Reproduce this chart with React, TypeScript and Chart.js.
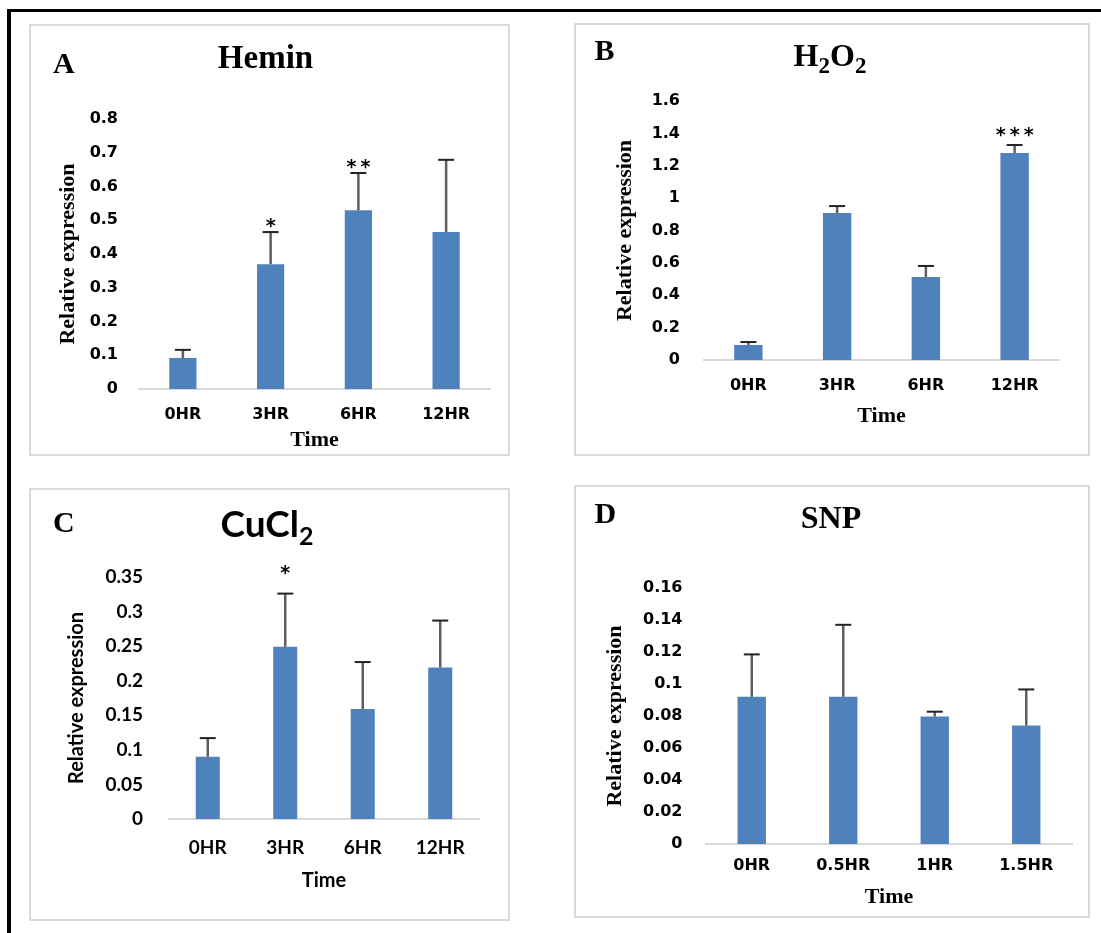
import React, { useEffect, useRef } from 'react';
import { Chart, registerables } from 'chart.js';

Chart.register(...registerables);

// ---------------- DATA ----------------
const hourCategories = ['0HR', '3HR', '6HR', '12HR'];
const snpCategories = ['0HR', '0.5HR', '1HR', '1.5HR'];

const heminValues = [0.092, 0.37, 0.53, 0.465];
const heminErrors = [0.024, 0.095, 0.11, 0.214];
const heminStars = ['', '*', '**', ''];
const heminTicks = ['0', '0.1', '0.2', '0.3', '0.4', '0.5', '0.6', '0.7', '0.8'];

const h2o2Values = [0.093, 0.908, 0.513, 1.279];
const h2o2Errors = [0.018, 0.043, 0.068, 0.049];
const h2o2Stars = ['', '', '', '***'];
const h2o2Ticks = ['0', '0.2', '0.4', '0.6', '0.8', '1', '1.2', '1.4', '1.6'];

const cuclValues = [0.09, 0.249, 0.159, 0.219];
const cuclErrors = [0.027, 0.077, 0.068, 0.068];
const cuclStars = ['', '*', '', ''];
const cuclTicks = ['0', '0.05', '0.1', '0.15', '0.2', '0.25', '0.3', '0.35'];

const snpValues = [0.092, 0.092, 0.0797, 0.074];
const snpErrors = [0.0265, 0.045, 0.003, 0.0226];
const snpStars = ['', '', '', ''];
const snpTicks = ['0', '0.02', '0.04', '0.06', '0.08', '0.1', '0.12', '0.14', '0.16'];

// ---------------- STYLE / LAYOUT ----------------
const SERIF = '"Liberation Serif", "Times New Roman", serif';
const VERD = '"DejaVu Sans", Verdana, sans-serif';
const CALI = 'Lato, Carlito, Calibri, sans-serif';
const BAR_COLOR = '#4f81bd';

type TitlePart = { text: string; sub?: boolean };

type PanelCfg = {
  rect: [number, number, number, number];
  area: [number, number, number, number];
  letter: string;
  letterPos: [number, number];
  title: TitlePart[];
  titleCenter: [number, number];
  titleFont: string;
  titleSize: number;
  subSize: number;
  subDrop: number;
  categories: string[];
  values: number[];
  errors: number[];
  stars: string[];
  starAbove: number;
  tickLabels: string[];
  max: number;
  step: number;
  tickFont: string;
  tickSize: number;
  tickRight: number;
  xLabelCenter: number;
  axisFont: string;
  xTitleSize: number;
  xTitleCenter: number;
  yTitleSize: number;
  yTitleCenter: number;
  barPct: number;
};

const panels: PanelCfg[] = [
  {
    rect: [29, 24, 481, 432],
    area: [110, 95, 461, 365],
    letter: 'A',
    letterPos: [24, 49],
    title: [{ text: 'Hemin' }],
    titleCenter: [236.5, 44],
    titleFont: SERIF,
    titleSize: 33,
    subSize: 22,
    subDrop: 7,
    categories: hourCategories,
    values: heminValues,
    errors: heminErrors,
    stars: heminStars,
    starAbove: 11,
    tickLabels: heminTicks,
    max: 0.8,
    step: 0.1,
    tickFont: VERD,
    tickSize: 16,
    tickRight: 89,
    xLabelCenter: 391,
    axisFont: SERIF,
    xTitleSize: 22,
    xTitleCenter: 416,
    yTitleSize: 22,
    yTitleCenter: 39,
    barPct: 0.31,
  },
  {
    rect: [574, 23, 516, 433],
    area: [130, 78, 485, 337],
    letter: 'B',
    letterPos: [20.5, 37],
    title: [{ text: 'H' }, { text: '2', sub: true }, { text: 'O' }, { text: '2', sub: true }],
    titleCenter: [256, 43],
    titleFont: SERIF,
    titleSize: 32,
    subSize: 23,
    subDrop: 7,
    categories: hourCategories,
    values: h2o2Values,
    errors: h2o2Errors,
    stars: h2o2Stars,
    starAbove: 15,
    tickLabels: h2o2Ticks,
    max: 1.6,
    step: 0.2,
    tickFont: VERD,
    tickSize: 16,
    tickRight: 106,
    xLabelCenter: 363,
    axisFont: SERIF,
    xTitleSize: 22,
    xTitleCenter: 393,
    yTitleSize: 22,
    yTitleCenter: 51.6,
    barPct: 0.32,
  },
  {
    rect: [29, 488, 481, 433],
    area: [140, 89, 450, 331],
    letter: 'C',
    letterPos: [24, 44],
    title: [{ text: 'CuCl' }, { text: '2', sub: true }],
    titleCenter: [238, 49],
    titleFont: CALI,
    titleSize: 37,
    subSize: 25,
    subDrop: 8,
    categories: hourCategories,
    values: cuclValues,
    errors: cuclErrors,
    stars: cuclStars,
    starAbove: 26,
    tickLabels: cuclTicks,
    max: 0.35,
    step: 0.05,
    tickFont: CALI,
    tickSize: 19,
    tickRight: 114,
    xLabelCenter: 360,
    axisFont: CALI,
    xTitleSize: 20,
    xTitleCenter: 393,
    yTitleSize: 20,
    yTitleCenter: 48,
    barPct: 0.31,
  },
  {
    rect: [574, 485, 516, 433],
    area: [132, 103, 498, 359],
    letter: 'D',
    letterPos: [20.5, 38],
    title: [{ text: 'SNP' }],
    titleCenter: [257, 43],
    titleFont: SERIF,
    titleSize: 32,
    subSize: 22,
    subDrop: 7,
    categories: snpCategories,
    values: snpValues,
    errors: snpErrors,
    stars: snpStars,
    starAbove: 12,
    tickLabels: snpTicks,
    max: 0.16,
    step: 0.02,
    tickFont: VERD,
    tickSize: 16,
    tickRight: 108.5,
    xLabelCenter: 381,
    axisFont: SERIF,
    xTitleSize: 22,
    xTitleCenter: 412,
    yTitleSize: 22,
    yTitleCenter: 41,
    barPct: 0.31,
  },
];

function Panel({ cfg }: { cfg: PanelCfg }) {
  const ref = useRef<HTMLCanvasElement | null>(null);

  useEffect(() => {
    const canvas = ref.current;
    if (!canvas) return;
    const [, , w, h] = cfg.rect;
    const [aL, aT, aR, aB] = cfg.area;

    const overlay = {
      id: 'overlay' + cfg.letter,
      afterDatasetsDraw(chart: any) {
        const ctx = chart.ctx as CanvasRenderingContext2D;
        const meta = chart.getDatasetMeta(0);
        const ys = chart.scales.y;
        meta.data.forEach((bar: any, i: number) => {
          const x = bar.x;
          const yTop = ys.getPixelForValue(cfg.values[i]);
          const yErr = ys.getPixelForValue(cfg.values[i] + cfg.errors[i]);
          ctx.save();
          ctx.strokeStyle = '#5e5e5e';
          ctx.lineWidth = 2.5;
          ctx.beginPath();
          ctx.moveTo(x, yTop);
          ctx.lineTo(x, yErr);
          ctx.stroke();
          ctx.strokeStyle = '#222';
          ctx.lineWidth = 2;
          ctx.beginPath();
          ctx.moveTo(x - 8, yErr);
          ctx.lineTo(x + 8, yErr);
          ctx.stroke();
          const s = cfg.stars[i];
          if (s) {
            const size = 19;
            ctx.font = `bold ${size}px ${VERD}`;
            ctx.fillStyle = '#000';
            ctx.textAlign = 'center';
            ctx.textBaseline = 'alphabetic';
            const gap = 14;
            const n = s.length;
            const cy = yErr - cfg.starAbove;
            for (let k = 0; k < n; k++) {
              const sx = x + (k - (n - 1) / 2) * gap;
              ctx.fillText('*', sx, cy + size * 0.58);
            }
          }
          ctx.restore();
        });
      },
      afterDraw(chart: any) {
        const ctx = chart.ctx as CanvasRenderingContext2D;
        ctx.save();
        ctx.fillStyle = '#000';
        ctx.textBaseline = 'alphabetic';
        ctx.font = `bold 30px ${SERIF}`;
        ctx.textAlign = 'left';
        ctx.fillText(cfg.letter, cfg.letterPos[0], cfg.letterPos[1]);
        const mainF = `bold ${cfg.titleSize}px ${cfg.titleFont}`;
        const subF = `bold ${cfg.subSize}px ${cfg.titleFont}`;
        let total = 0;
        const widths = cfg.title.map((p) => {
          ctx.font = p.sub ? subF : mainF;
          const wd = ctx.measureText(p.text).width;
          total += wd;
          return wd;
        });
        let x = cfg.titleCenter[0] - total / 2;
        cfg.title.forEach((p, i) => {
          ctx.font = p.sub ? subF : mainF;
          ctx.fillText(p.text, x, cfg.titleCenter[1] + (p.sub ? cfg.subDrop : 0));
          x += widths[i];
        });
        ctx.restore();
      },
    };

    const chart = new Chart(canvas, {
      type: 'bar',
      data: {
        labels: cfg.categories,
        datasets: [
          {
            data: cfg.values,
            backgroundColor: BAR_COLOR,
            borderWidth: 0,
            barPercentage: cfg.barPct,
            categoryPercentage: 1,
          },
        ],
      },
      options: {
        responsive: false,
        animation: false,
        layout: { padding: { left: 0, top: aT, right: w - aR, bottom: 0 } },
        plugins: {
          legend: { display: false },
          tooltip: { enabled: false },
          title: { display: false },
        },
        scales: {
          x: {
            type: 'category',
            grid: { display: false, drawTicks: false },
            border: { display: true, color: '#d9d9d9', width: 2 },
            ticks: {
              color: '#000',
              padding: cfg.xLabelCenter - aB - cfg.tickSize * 0.6,
              font: { family: cfg.tickFont, size: cfg.tickSize, weight: 'bold' },
              maxRotation: 0,
              autoSkip: false,
            },
            title: {
              display: true,
              text: 'Time',
              color: '#000',
              font: { family: cfg.axisFont, size: cfg.xTitleSize, weight: 'bold' },
              padding: { top: 0, bottom: h - cfg.xTitleCenter - cfg.xTitleSize * 0.6 },
            },
            afterFit: (s: any) => {
              s.height = h - aB;
            },
          },
          y: {
            min: 0,
            max: cfg.max,
            grid: { display: false, drawTicks: false },
            border: { display: false },
            ticks: {
              stepSize: cfg.step,
              color: '#000',
              padding: aL - cfg.tickRight,
              font: { family: cfg.tickFont, size: cfg.tickSize, weight: 'bold' },
              callback: (v: any) => cfg.tickLabels[Math.round(Number(v) / cfg.step)],
            },
            title: {
              display: true,
              text: 'Relative expression',
              color: '#000',
              font: { family: cfg.axisFont, size: cfg.yTitleSize, weight: 'bold' },
              padding: { top: cfg.yTitleCenter - cfg.yTitleSize * 0.6, bottom: 0 },
            },
            afterFit: (s: any) => {
              s.width = aL;
            },
          },
        },
      },
      plugins: [overlay],
    } as any);

    return () => chart.destroy();
  }, [cfg]);

  const [x, y, w, h] = cfg.rect;
  return (
    <>
      <canvas
        ref={ref}
        width={w}
        height={h}
        style={{ position: 'absolute', left: x, top: y, width: w, height: h }}
      />
      <div
        style={{
          position: 'absolute',
          left: x,
          top: y,
          width: w,
          height: h,
          boxSizing: 'border-box',
          border: '2px solid #d9d9d9',
          pointerEvents: 'none',
        }}
      />
    </>
  );
}

export default function App() {
  return (
    <div
      style={{
        position: 'absolute',
        left: 0,
        top: 0,
        width: 1101,
        height: 933,
        overflow: 'hidden',
        background: '#fff',
      }}
    >
      <div
        style={{
          position: 'absolute',
          left: 7,
          top: 9,
          width: 1200,
          height: 1000,
          borderLeft: '4px solid #000',
          borderTop: '3px solid #000',
        }}
      />
      {panels.map((p) => (
        <Panel key={p.letter} cfg={p} />
      ))}
    </div>
  );
}
